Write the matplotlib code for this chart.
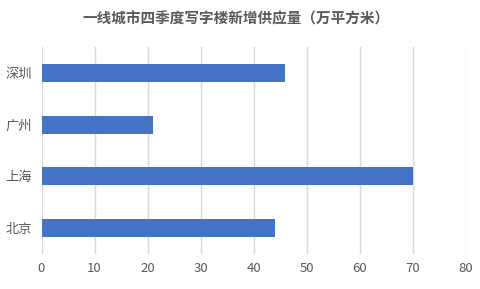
import matplotlib
matplotlib.use("Agg")
import matplotlib.pyplot as plt

plt.rcParams["font.family"] = ["Noto Sans CJK SC", "DejaVu Sans"]

cities = ["北京", "上海", "广州", "深圳"]
supply = [44, 70, 21, 46]
x_ticks = [0, 10, 20, 30, 40, 50, 60, 70, 80]
title = "一线城市四季度写字楼新增供应量（万平方米）"

grey = "#595959"

fig = plt.figure(figsize=(4.81, 2.89), dpi=100)
ax = fig.add_axes([41.5 / 481, 35 / 289, (465.7 - 41.5) / 481, (254 - 47) / 289])

ax.barh(cities, supply, height=0.35, color="#4472c4", zorder=3)
ax.set_xlim(0, 80)
ax.set_ylim(-0.5, len(cities) - 0.5)
ax.set_xticks(x_ticks)
ax.grid(axis="x", color="#d9d9d9", linewidth=1, zorder=0)
for s in ax.spines.values():
    s.set_visible(False)
ax.tick_params(length=0, colors=grey, labelsize=9.5)
ax.tick_params(axis="y", pad=7)
ax.tick_params(axis="x", pad=6)

fig.text(0.49, 1 - 18 / 289, title, ha="center", va="center",
         fontsize=10.5, fontweight="bold", color=grey)

fig.savefig("out.png", dpi=100)
